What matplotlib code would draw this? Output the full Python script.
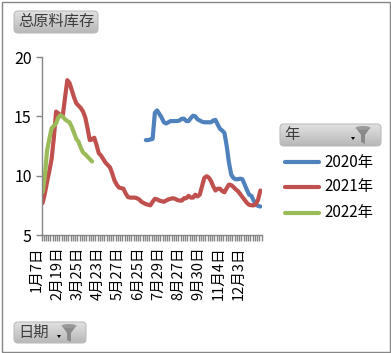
import numpy as np
import matplotlib
matplotlib.use("Agg")
import matplotlib.pyplot as plt
from matplotlib.patches import Ellipse, FancyBboxPatch, Polygon, Rectangle
from matplotlib.transforms import ScaledTranslation

plt.rcParams['font.family'] = ['Noto Sans CJK SC', 'DejaVu Sans']

# values
y2021 = [7.7, 8.5, 9.5, 10.4, 11.4, 13.2, 15.4, 15.25, 15.1, 15.1,
         16.6, 18.05, 17.8, 17.2, 16.6, 16.1, 15.9, 15.7, 15.4, 14.9,
         14.0, 13.0, 13.05, 13.2, 12.6, 11.9, 11.7, 11.4, 11.1, 10.9,
         10.7, 10.2, 9.6, 9.25, 9.0, 8.95, 8.9, 8.5, 8.2, 8.15,
         8.15, 8.15, 8.1, 8.0, 7.8, 7.7, 7.6, 7.55, 7.5, 7.8,
         8.05, 8.0, 7.9, 7.85, 7.8, 7.9, 8.0, 8.05, 8.1, 8.05,
         7.95, 7.9, 7.9, 8.1, 8.1, 8.3, 8.15, 8.15, 8.4, 8.25,
         8.4, 9.1, 9.8, 9.95, 9.85, 9.55, 9.1, 8.75, 8.9, 8.9,
         8.7, 8.6, 8.95, 9.25, 9.2, 9.05, 8.85, 8.7, 8.45, 8.2,
         7.95, 7.7, 7.55, 7.5, 7.5, 7.6, 8.0, 8.75]
y2020 = [13.0, 13.0, 13.05, 13.1, 15.3, 15.5, 15.2, 14.9, 14.5, 14.4,
         14.5, 14.6, 14.6, 14.6, 14.6, 14.65, 14.8, 14.8, 14.6, 14.6,
         14.85, 15.05, 15.0, 14.75, 14.65, 14.55, 14.5, 14.5, 14.5, 14.5,
         14.65, 14.7, 14.3, 13.95, 13.8, 13.6, 12.5, 11.1, 10.1, 9.8,
         9.7, 9.7, 9.75, 9.7, 9.25, 8.8, 8.4, 8.3, 7.9, 7.55,
         7.45, 7.4]
y2022 = [8.6, 10.0, 12.15, 13.1, 14.0, 14.2, 14.4, 14.9, 15.1, 14.95,
         14.75, 14.6, 14.5, 14.1, 13.6, 13.1, 12.85, 12.35, 11.95, 11.8,
         11.6, 11.4, 11.2]
start2020 = 46
n_cats = 98
tick_labels = ['1月7日', '2月19日', '3月25日', '4月23日', '5月27日', '6月25日',
               '7月29日', '8月27日', '9月30日', '11月4日', '12月3日']
y_ticks = [5, 10, 15, 20]
legend_names = ['2020年', '2021年', '2022年']
colors = ['#4F81BD', '#C0504D', '#9BBB59']

W, H = 391, 353
fig = plt.figure(figsize=(W / 100, H / 100), dpi=100)


def button(ov, x0, y0, x1, y1, label, funnel_x=None):
    grad = np.linspace(0.88, 0.72, 32).reshape(-1, 1)
    im = ov.imshow(grad, extent=(x0, x1, y1, y0), cmap='gray', vmin=0, vmax=1,
                   aspect='auto', zorder=2)
    box = FancyBboxPatch((x0 + 3, y0 + 3), x1 - x0 - 6, y1 - y0 - 6,
                         boxstyle='round,pad=3,rounding_size=4',
                         fc='none', ec='#bdbdbd', lw=0.8, zorder=3)
    ov.add_patch(box)
    im.set_clip_path(box)
    ov.text(x0 + 4, (y0 + y1) / 2 - 0.5, label, fontsize=11, color='#3c3c3c',
            ha='left', va='center', zorder=4)
    if funnel_x is not None:
        fy = y0 + 2
        ov.add_patch(Polygon([(funnel_x, fy + 2), (funnel_x + 14, fy + 2), (funnel_x + 9, fy + 9),
                              (funnel_x + 9, fy + 18), (funnel_x + 5, fy + 16),
                              (funnel_x + 5, fy + 9)], fc='#8a8a8a', ec='none', zorder=4))
        ov.add_patch(Ellipse((funnel_x + 7, fy + 2), 15, 4, fc='#9a9a9a', ec='none', zorder=4))
        ov.add_patch(Polygon([(funnel_x - 5, fy + 11), (funnel_x - 1, fy + 11),
                              (funnel_x - 3, fy + 14)], fc='black', ec='none', zorder=4))


# main plot, pixel box 41.5..261.5 / 57..235
ax = fig.add_axes([41.5 / W, 1 - 235 / H, 220 / W, 178 / H])
x = np.arange(n_cats)
ax.plot(x[start2020:start2020 + len(y2020)], y2020, color=colors[0], lw=3, solid_capstyle='round', solid_joinstyle='round')
ax.plot(x[:len(y2021)], y2021, color=colors[1], lw=3, solid_capstyle='round', solid_joinstyle='round')
ax.plot(x[:len(y2022)], y2022, color=colors[2], lw=3, solid_capstyle='round', solid_joinstyle='round')
ax.set_xlim(-0.5, n_cats - 0.5)
ax.set_ylim(5, 20)
ax.set_yticks(y_ticks)
ax.tick_params(axis='y', length=4.5, width=1, color='#868686', labelsize=11.5, pad=2.5)
ax.set_xticks(np.arange(len(tick_labels)) * 9)
ax.set_xticklabels(tick_labels, rotation=90, fontsize=10.5)
ax.set_xticks(np.arange(n_cats + 1) - 0.5, minor=True)
ax.tick_params(axis='x', which='major', length=0, pad=8.5)
ax.tick_params(axis='x', which='minor', length=4.3, width=1, color='#868686')
shift = ScaledTranslation(-4 / 72, 0, fig.dpi_scale_trans)
for t in ax.get_xticklabels():
    t.set_transform(t.get_transform() + shift)
for s in ['top', 'right']:
    ax.spines[s].set_visible(False)
for s in ['left', 'bottom']:
    ax.spines[s].set_color('#868686')
    ax.spines[s].set_linewidth(1)
ax.patch.set_alpha(0)

# overlay in pixel coordinates for frame, buttons and legend
ov = fig.add_axes([0, 0, 1, 1], zorder=-1)
ov.set_xlim(0, W)
ov.set_ylim(H, 0)
ov.axis('off')
ov.add_patch(Rectangle((1.5, 1.5), W - 3, H - 3, fc='white', ec='#868686', lw=1))
button(ov, 14, 11, 98, 33, '总原料库存')
button(ov, 14, 322, 86, 343, '日期', funnel_x=62)
button(ov, 280, 124, 381, 146, '年', funnel_x=356)
ov.set_xlim(0, W)
ov.set_ylim(H, 0)

for yy, name, c in zip([162, 187, 213], legend_names, colors):
    ov.plot([285, 319], [yy, yy], color=c, lw=3, solid_capstyle='round')
    ov.text(324, yy, name, fontsize=11, color='black', ha='left', va='center')

fig.savefig('out.png', dpi=100)
